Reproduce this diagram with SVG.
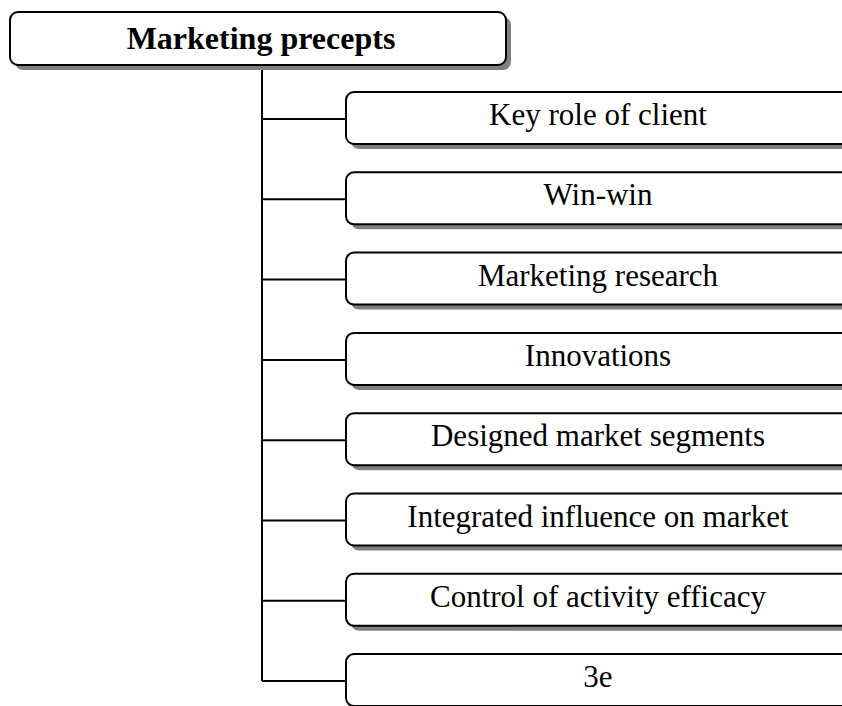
<svg xmlns="http://www.w3.org/2000/svg" width="842" height="706" viewBox="0 0 842 706">
<style>
.box{fill:#fff;stroke:#000;stroke-width:2}
.sh{fill:#808080}
.t{font-family:"Liberation Serif","Times New Roman",serif;font-size:31px;fill:#000;text-anchor:middle}
.title{font-family:"Liberation Serif","Times New Roman",serif;font-size:32px;font-weight:bold;fill:#000;text-anchor:middle}
.ln{stroke:#000;stroke-width:2;fill:none}
</style>
<rect width="842" height="706" fill="#fff"/>
<g id="connectors">
<path class="ln" d="M262,66 V681"/>
<path class="ln" d="M262,119 H346 M262,199.3 H346 M262,279.6 H346 M262,359.9 H346 M262,440.2 H346 M262,520.5 H346 M262,600.8 H346 M262,681.1 H346"/>
</g>
<g id="root">
<rect class="sh" x="15" y="17" width="496" height="53" rx="8"/>
<rect class="box" x="10" y="12" width="496" height="53" rx="8"/>
<text class="title" x="261" y="49">Marketing precepts</text>
</g>
<g id="n1"><rect class="sh" x="351" y="97" width="520" height="52" rx="8"/><rect class="box" x="346" y="92" width="520" height="52" rx="8"/><text class="t" x="598" y="125">Key role of client</text></g>
<g id="n2"><rect class="sh" x="351" y="177.3" width="520" height="52" rx="8"/><rect class="box" x="346" y="172.3" width="520" height="52" rx="8"/><text class="t" x="598" y="205.3">Win-win</text></g>
<g id="n3"><rect class="sh" x="351" y="257.6" width="520" height="52" rx="8"/><rect class="box" x="346" y="252.6" width="520" height="52" rx="8"/><text class="t" x="598" y="285.6">Marketing research</text></g>
<g id="n4"><rect class="sh" x="351" y="337.9" width="520" height="52" rx="8"/><rect class="box" x="346" y="332.9" width="520" height="52" rx="8"/><text class="t" x="598" y="365.9">Innovations</text></g>
<g id="n5"><rect class="sh" x="351" y="418.2" width="520" height="52" rx="8"/><rect class="box" x="346" y="413.2" width="520" height="52" rx="8"/><text class="t" x="598" y="446.2">Designed market segments</text></g>
<g id="n6"><rect class="sh" x="351" y="498.5" width="520" height="52" rx="8"/><rect class="box" x="346" y="493.5" width="520" height="52" rx="8"/><text class="t" x="598" y="526.5">Integrated influence on market</text></g>
<g id="n7"><rect class="sh" x="351" y="578.8" width="520" height="52" rx="8"/><rect class="box" x="346" y="573.8" width="520" height="52" rx="8"/><text class="t" x="598" y="606.8">Control of activity efficacy</text></g>
<g id="n8"><rect class="sh" x="351" y="659.1" width="520" height="52" rx="8"/><rect class="box" x="346" y="654.1" width="520" height="52" rx="8"/><text class="t" x="598" y="687.1">3e</text></g>
</svg>
